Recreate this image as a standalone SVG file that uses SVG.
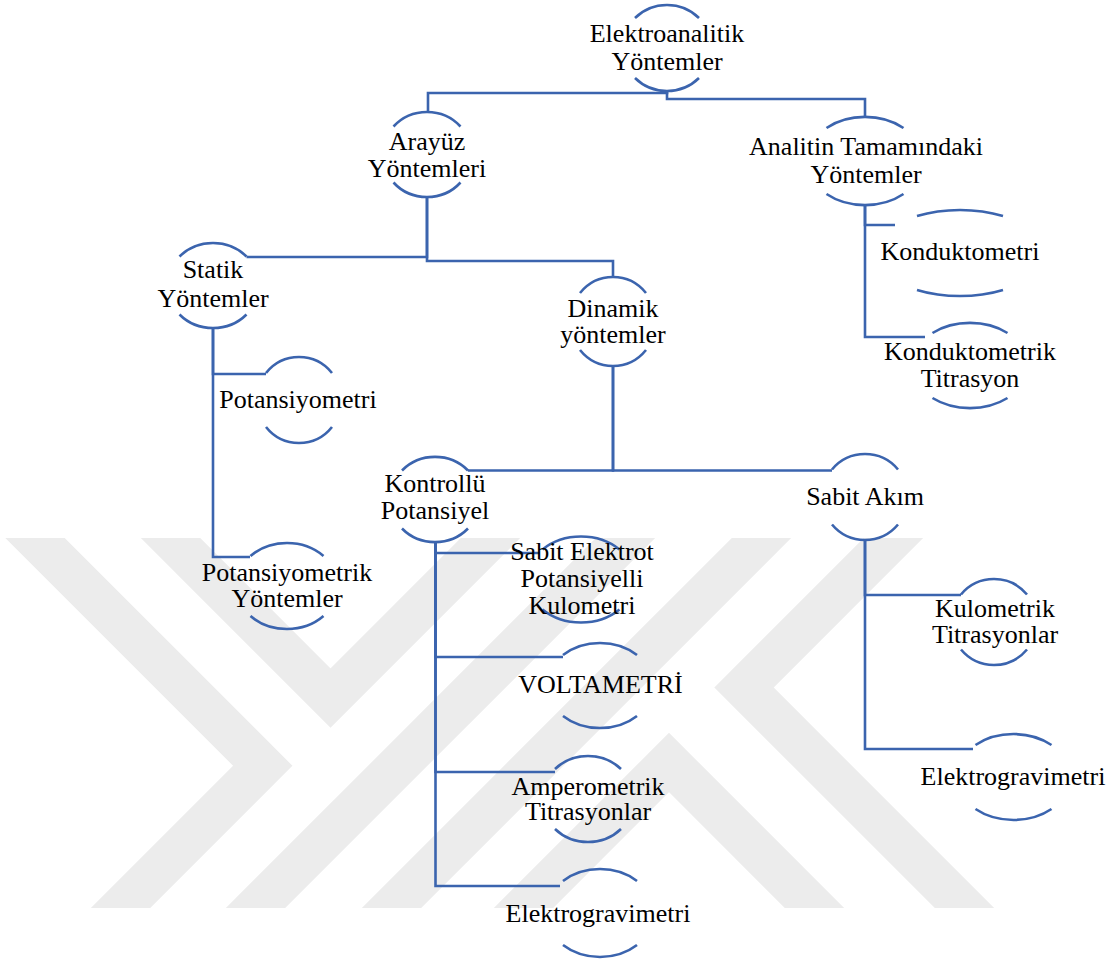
<svg xmlns="http://www.w3.org/2000/svg" width="1116" height="962" viewBox="0 0 1116 962">
  <style>
    .wm { fill: none; stroke: #ececec; stroke-width: 42; stroke-linejoin: miter; }
    .arc { fill: none; stroke: #3b64ae; stroke-width: 2.6; }
    .conn { fill: none; stroke: #3b64ae; stroke-width: 2.6; stroke-linejoin: miter; }
    .lbl { font-family: "Liberation Serif", "Times New Roman", serif; font-size: 26px; fill: #000; text-anchor: middle; }
  </style>
  <defs>
    <clipPath id="wmclip"><rect x="0" y="538" width="1116" height="370"/></clipPath>
  </defs>
  <rect x="0" y="0" width="1116" height="962" fill="#ffffff"/>
  <g id="watermark" clip-path="url(#wmclip)">
    <polyline class="wm" points="90.5,938 262.75,765.75 5,508"/>
    <polyline class="wm" points="140.5,508 330.5,698 520.5,508"/>
    <polyline class="wm" points="225.5,938 655.5,508"/>
    <polyline class="wm" points="361.5,938 791.5,508"/>
    <polyline class="wm" points="923.5,508 744,687.5 994.5,938"/>
    <polyline class="wm" points="493.5,938 669,762.5 844.5,938"/>
  </g>
  <g id="connectors">
    <path class="conn" d="M667,91 V93 H428 V112"/>
    <path class="conn" d="M667,91 V99 H865 V117"/>
    <path class="conn" d="M427,197 V257 H246.5"/>
    <path class="conn" d="M427,197 V261 H613 V277"/>
    <path class="conn" d="M865,205 V225 H895"/>
    <path class="conn" d="M865,205 V337 H925"/>
    <path class="conn" d="M213,328 V374 H266"/>
    <path class="conn" d="M213,328 V557 H250"/>
    <path class="conn" d="M613,366 V470.5 H468"/>
    <path class="conn" d="M613,366 V470.5 H832"/>
    <path class="conn" d="M435.5,542 V553 H540"/>
    <path class="conn" d="M435.5,542 V657 H563"/>
    <path class="conn" d="M435.5,542 V772 H555"/>
    <path class="conn" d="M435.5,542 V886 H560"/>
    <path class="conn" d="M865,540 V595 H961"/>
    <path class="conn" d="M865,540 V749 H973"/>
  </g>
  <g id="n-elektroanalitik">
    <path class="arc" d="M635,18 A44.7,43 0 0 1 699,18"/>
    <path class="arc" d="M635,78 A44.7,43 0 0 0 699,78"/>
    <text class="lbl" x="667" y="42">Elektroanalitik</text>
    <text class="lbl" x="667" y="70">Yöntemler</text>
  </g>
  <g id="n-arayuz">
    <path class="arc" d="M393.5,126.5 A44.5,42.5 0 0 1 460.5,126.5"/>
    <path class="arc" d="M393.5,182.5 A44.5,42.5 0 0 0 460.5,182.5"/>
    <text class="lbl" x="427" y="150">Arayüz</text>
    <text class="lbl" x="427" y="176.5">Yöntemleri</text>
  </g>
  <g id="n-analitin">
    <path class="arc" d="M826.5,128 A58,44 0 0 1 903.5,128"/>
    <path class="arc" d="M826.5,194 A58,44 0 0 0 903.5,194"/>
    <text class="lbl" x="866" y="155">Analitin Tamamındaki</text>
    <text class="lbl" x="866" y="183">Yöntemler</text>
  </g>
  <g id="n-statik">
    <path class="arc" d="M179.5,256.5 A45.8,42.5 0 0 1 246.5,256.5"/>
    <path class="arc" d="M179.5,314.5 A45.8,42.5 0 0 0 246.5,314.5"/>
    <text class="lbl" x="213" y="278">Statik</text>
    <text class="lbl" x="213" y="307">Yöntemler</text>
  </g>
  <g id="n-potansiyometri">
    <path class="arc" d="M266,373 A42.4,43 0 0 1 332,373"/>
    <path class="arc" d="M266,427 A42.4,43 0 0 0 332,427"/>
    <text class="lbl" x="298" y="408">Potansiyometri</text>
  </g>
  <g id="n-dinamik">
    <path class="arc" d="M580,293 A43,44.5 0 0 1 646,293"/>
    <path class="arc" d="M580,350 A43,44.5 0 0 0 646,350"/>
    <text class="lbl" x="613" y="317">Dinamik</text>
    <text class="lbl" x="613" y="343">yöntemler</text>
  </g>
  <g id="n-konduktometri">
    <path class="arc" d="M917,216 A84,43 0 0 1 1003,216"/>
    <path class="arc" d="M917,290 A84,43 0 0 0 1003,290"/>
    <text class="lbl" x="960" y="260">Konduktometri</text>
  </g>
  <g id="n-konduktometrik-titrasyon">
    <path class="arc" d="M932.5,333 A58,42.5 0 0 1 1007.5,333"/>
    <path class="arc" d="M932.5,398 A58,42.5 0 0 0 1007.5,398"/>
    <text class="lbl" x="970" y="360">Konduktometrik</text>
    <text class="lbl" x="970" y="387">Titrasyon</text>
  </g>
  <g id="n-potansiyometrik-yontemler">
    <path class="arc" d="M250.5,556 A51,43 0 0 1 323.5,556"/>
    <path class="arc" d="M250.5,616 A51,43 0 0 0 323.5,616"/>
    <text class="lbl" x="287" y="581">Potansiyometrik</text>
    <text class="lbl" x="287" y="606.5">Yöntemler</text>
  </g>
  <g id="n-kontrollu">
    <path class="arc" d="M402,470.5 A45,42.5 0 0 1 468,470.5"/>
    <path class="arc" d="M402,528.5 A45,42.5 0 0 0 468,528.5"/>
    <text class="lbl" x="435" y="492">Kontrollü</text>
    <text class="lbl" x="435" y="519">Potansiyel</text>
  </g>
  <g id="n-sabit-elektrot">
    <path class="arc" d="M542.5,549.5 A53.8,43 0 0 1 619.5,549.5"/>
    <path class="arc" d="M542.5,609.5 A53.8,43 0 0 0 619.5,609.5"/>
    <text class="lbl" x="582" y="560">Sabit Elektrot</text>
    <text class="lbl" x="582" y="587">Potansiyelli</text>
    <text class="lbl" x="582" y="614">Kulometri</text>
  </g>
  <g id="n-voltametri">
    <path class="arc" d="M563,655 A53,42.5 0 0 1 637,655"/>
    <path class="arc" d="M563,716 A53,42.5 0 0 0 637,716"/>
    <text class="lbl" x="600.5" y="693">VOLTAMETRİ</text>
  </g>
  <g id="n-amperometrik">
    <path class="arc" d="M555,769 A46,43 0 0 1 621,769"/>
    <path class="arc" d="M555,829 A46,43 0 0 0 621,829"/>
    <text class="lbl" x="588" y="795">Amperometrik</text>
    <text class="lbl" x="588" y="820">Titrasyonlar</text>
  </g>
  <g id="n-elektrogravimetri-1">
    <path class="arc" d="M563,881 A54,44 0 0 1 637,881"/>
    <path class="arc" d="M563,945 A54,44 0 0 0 637,945"/>
    <text class="lbl" x="598" y="922">Elektrogravimetri</text>
  </g>
  <g id="n-sabit-akim">
    <path class="arc" d="M832,469.5 A43,43 0 0 1 898,469.5"/>
    <path class="arc" d="M832,524.5 A43,43 0 0 0 898,524.5"/>
    <text class="lbl" x="865" y="505">Sabit Akım</text>
  </g>
  <g id="n-kulometrik">
    <path class="arc" d="M961,594.5 A43,43 0 0 1 1027,594.5"/>
    <path class="arc" d="M961,649.5 A43,43 0 0 0 1027,649.5"/>
    <text class="lbl" x="995" y="617">Kulometrik</text>
    <text class="lbl" x="995" y="643">Titrasyonlar</text>
  </g>
  <g id="n-elektrogravimetri-2">
    <path class="arc" d="M975.5,745 A57,43 0 0 1 1051.5,745"/>
    <path class="arc" d="M975.5,809 A57,43 0 0 0 1051.5,809"/>
    <text class="lbl" x="1013" y="785">Elektrogravimetri</text>
  </g>
</svg>
